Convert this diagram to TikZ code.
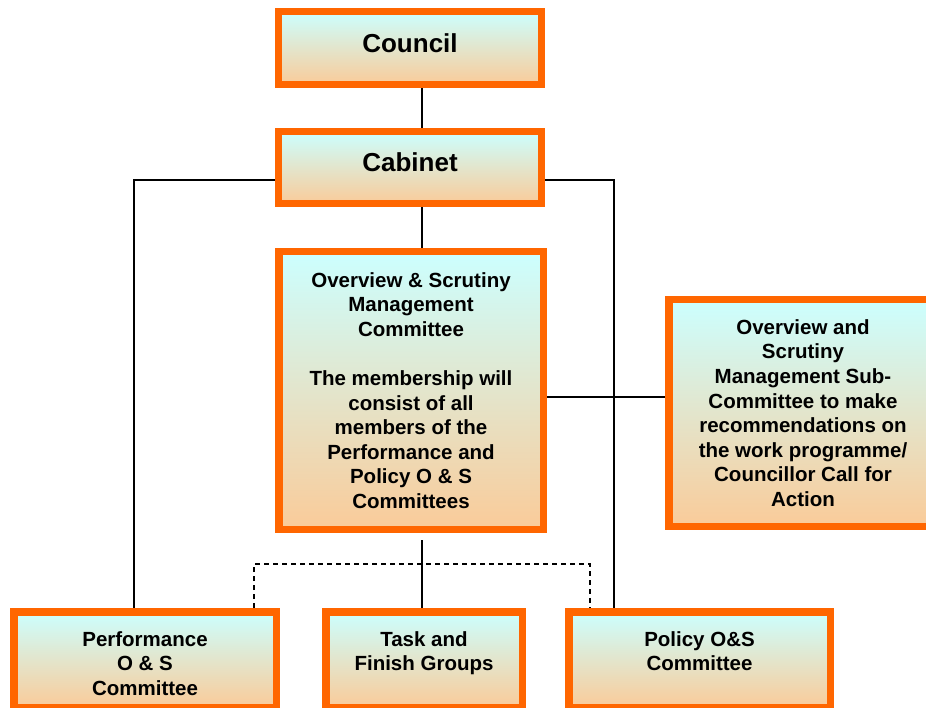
\documentclass[tikz,border=0pt]{standalone}
\usepackage{fontspec}
\setmainfont{Liberation Sans}
\usepackage{tikz}
\usetikzlibrary{calc}

\definecolor{boxedge}{HTML}{FF6600}
\definecolor{boxtop}{HTML}{CCFFFF}
\definecolor{boxbot}{HTML}{FACB99}

\newcommand{\topstrut}{\rule{0pt}{22.5pt}}

\begin{document}
\begin{tikzpicture}[
            x = 1pt, y = -1pt, % pixel-like units, y downwards
            orgbox/.style = {draw = boxedge, line width = 7.5pt,
              top color = boxtop, bottom color = boxbot,
              rectangle, inner sep = 0pt, align = center,
              font = \fontsize{20.5}{24.6}\selectfont\bfseries},
            bigbox/.style = {orgbox,
              font = \fontsize{26}{31}\selectfont\bfseries},
            link/.style = {line width = 1.2pt, black},
            dotlink/.style = {link, dash pattern = on 5pt off 4pt}
            ]
            \useasboundingbox (0,0) rectangle (926,708);

            \node[bigbox, minimum width=263pt, minimum height=73pt] (council) at (410,48) {\raisebox{10pt}{Council}};
            \node[bigbox, minimum width=263pt, minimum height=72pt] (cabinet) at (410,167.5) {\raisebox{10pt}{Cabinet}};

            \node[orgbox, minimum width=264.5pt, minimum height=277.5pt] (osmc) at (411,390.5)
            {Overview \& Scrutiny\\Management\\Committee\\[24.6pt]The membership will\\consist of all\\members of the\\Performance and\\Policy O \& S\\Committees};

            \node[orgbox, minimum width=268.5pt, minimum height=226.5pt] (subcttee) at (803,413)
            {Overview and\\Scrutiny\\Management Sub-\\Committee to make\\recommendations on\\the work programme/\\Councillor Call for\\Action};

            \node[orgbox, minimum width=262.5pt, minimum height=95.5pt] (perf) at (145,659.5)
            {\topstrut Performance\\O \& S\\Committee};
            \node[orgbox, minimum width=196.5pt, minimum height=95.5pt] (task) at (424,659.5)
            {\topstrut Task and\\Finish Groups\\\mbox{}};
            \node[orgbox, minimum width=261.5pt, minimum height=95.5pt] (policy) at (699.5,659.5)
            {\topstrut Policy O\&S\\Committee\\\mbox{}};

            % where the lines run
            \coordinate (spine) at (422,0);
            \coordinate (lft) at (134,180);
            \coordinate (rgt) at (614,180);
            \coordinate (side) at (0,397);
            \coordinate (dl) at (254,564);
            \coordinate (dr) at (590,564);

            \draw[link] (council.south -| spine) -- (cabinet.north -| spine);
            \draw[link] (cabinet.south -| spine) -- (osmc.north -| spine);
            \draw[link] (cabinet.west |- lft) -| (perf.north -| lft);
            \draw[link] (cabinet.east |- rgt) -| (policy.north -| rgt);
            \draw[link] (osmc.east |- side) -- (subcttee.west |- side);
            \draw[link, shorten <= 7pt] (osmc.south -| spine) -- (task.north -| spine);
            \draw[dotlink] (perf.north -| dl) -- (dl) -- (dr) -- (policy.north -| dr);
        \end{tikzpicture}
\end{document}
